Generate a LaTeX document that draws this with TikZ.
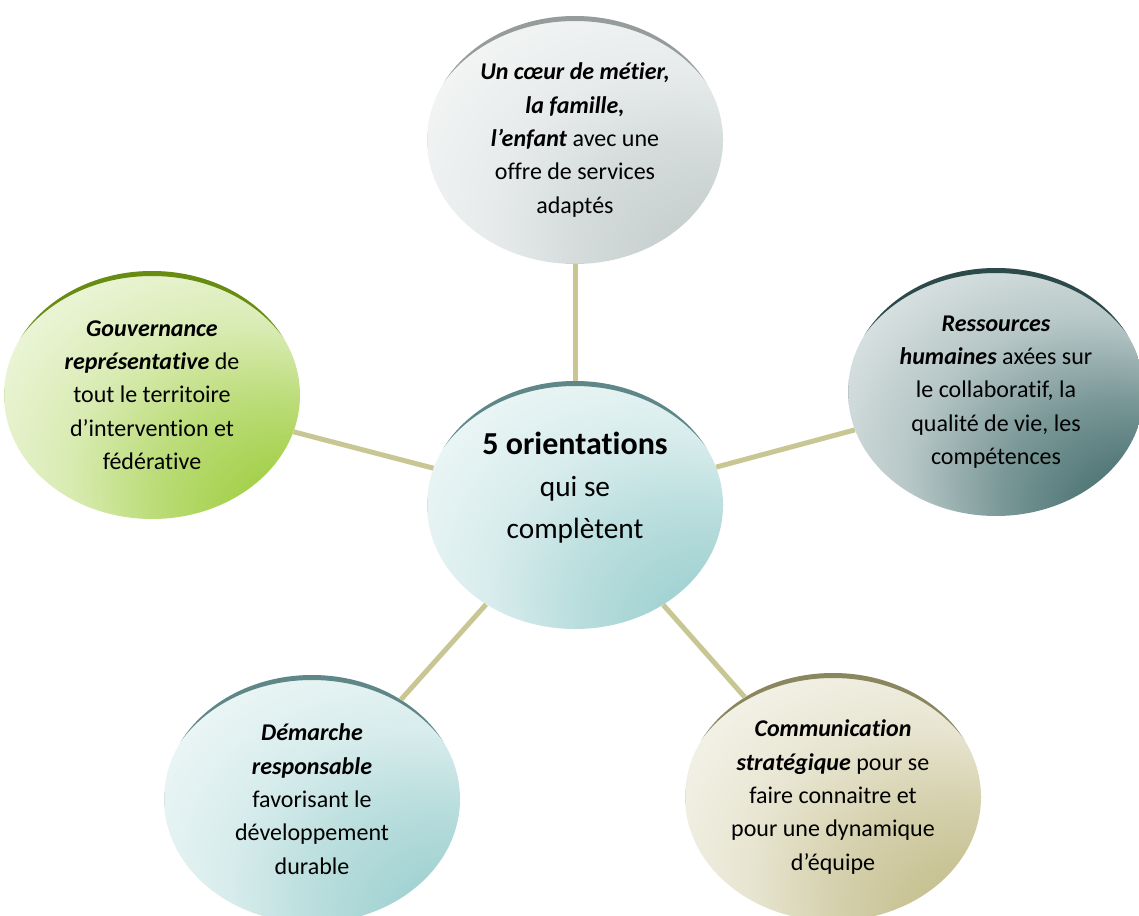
\documentclass[tikz,border=0pt]{standalone}
\usepackage{fontspec}
\setmainfont{Carlito}[Ligatures=NoCommon]
\usetikzlibrary{shapes.geometric}
\definecolor{linkcol}{RGB}{200,199,148}
\definecolor{bubblecol}{RGB}{160,210,210}
\definecolor{greyrim}{RGB}{150,156,156}
\definecolor{greyfill}{RGB}{196,205,205}
\definecolor{tealrim}{RGB}{95,135,136}
\definecolor{tealfill}{RGB}{158,208,208}
\definecolor{greenrim}{RGB}{104,140,18}
\definecolor{greenfill}{RGB}{160,206,66}
\definecolor{slaterim}{RGB}{44,74,74}
\definecolor{slatefill}{RGB}{72,112,112}
\definecolor{olivefillrim}{RGB}{138,134,94}
\definecolor{olivefill}{RGB}{196,190,140}
\pgfdeclareradialshading[bubblecol]{bubbleglow}{\pgfpoint{31bp}{-32bp}}{color(0bp)=(bubblecol);color(9bp)=(bubblecol);color(20bp)=(bubblecol!72!white);color(30bp)=(bubblecol!40!white);color(46bp)=(bubblecol!10!white);color(60bp)=(white)}
\newcommand{\bitext}[1]{\textbf{\textit{#1}}}
\tikzset{
	bubble/.style 2 args={ellipse, minimum width=222pt, minimum height=186pt, inner sep=0pt,
		align=center, font=\fontsize{18}{25}\selectfont,
		/utils/exec={\colorlet{bubblecol}{#1}}, shading=bubbleglow,
		path picture={\fill[#2,even odd rule] (path picture bounding box.south west) rectangle (path picture bounding box.north east)
			([yshift=-3.75pt]path picture bounding box.center) ellipse [x radius=114pt, y radius=93pt];}},
	link/.style={draw=linkcol, line width=3.75pt}
}
\begin{document}
\begin{tikzpicture}[x=0.75pt,y=-0.75pt]
	\useasboundingbox (0,0) rectangle (1139,916);
	% the five orientations around the centre
	\node[bubble={greyfill}{greyrim}] (metier) at (575,140) {\bitext{Un cœur de métier,}\\ \bitext{la famille,}\\ \bitext{l’enfant} avec une\\ offre de services\\ adaptés};
	\node[bubble={greenfill}{greenrim}] (gouv) at (152,395) {\bitext{Gouvernance}\\ \bitext{représentative} de\\ tout le territoire\\ d’intervention et\\ fédérative};
	\node[bubble={slatefill}{slaterim}] (rh) at (996,392) {\bitext{Ressources}\\ \bitext{humaines} axées sur\\ le collaboratif, la\\ qualité de vie, les\\ compétences};
	\node[bubble={tealfill}{tealrim}] (demarche) at (312,799) {\bitext{Démarche}\\ \bitext{responsable}\\ favorisant le\\ développement\\ durable};
	\node[bubble={olivefill}{olivefillrim}] (comm) at (833,797) {\bitext{Communication}\\ \bitext{stratégique} pour se\\ faire connaitre et\\ pour une dynamique\\ d’équipe};
	
	\node[bubble={tealfill}{tealrim}, font=\fontsize{22}{31.5}\selectfont, text depth=30pt] (centre) at (575,505) {{\fontsize{24}{31.5}\selectfont\bfseries 5 orientations}\\ qui se\\ complètent};
	
	\draw[link] (centre) -- (metier);
	\draw[link] (centre) -- (gouv);
	\draw[link] (centre) -- (rh);
	\draw[link] (centre) -- (demarche);
	\draw[link] (centre) -- (comm);
\end{tikzpicture}
\end{document}
